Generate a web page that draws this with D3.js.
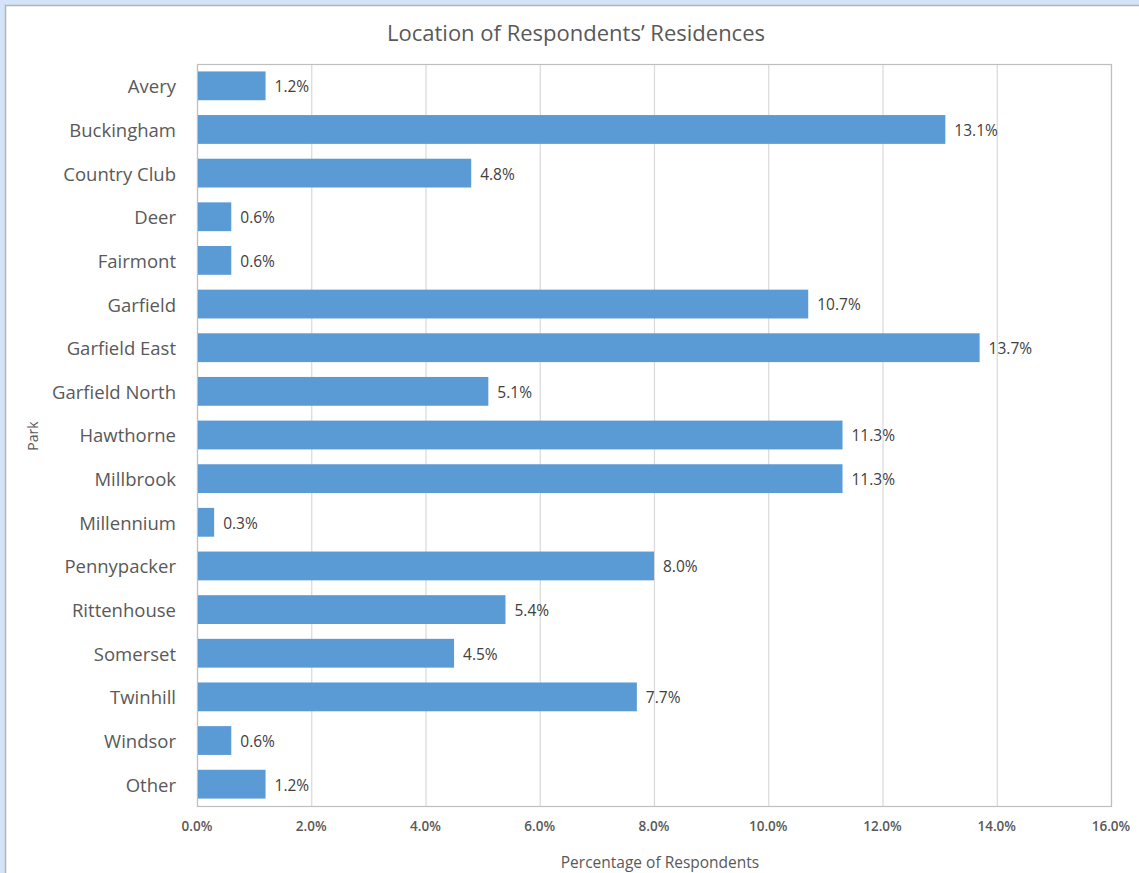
<!DOCTYPE html>
<html><head><meta charset="utf-8">
<script src="https://cdn.jsdelivr.net/npm/d3@7/dist/d3.min.js"></script>
<style>body{margin:0;background:#fff;} svg{display:block;}</style>
</head><body>
<script>
const categories = ["Avery","Buckingham","Country Club","Deer","Fairmont","Garfield","Garfield East","Garfield North","Hawthorne","Millbrook","Millennium","Pennypacker","Rittenhouse","Somerset","Twinhill","Windsor","Other"];
const values = [1.2,13.1,4.8,0.6,0.6,10.7,13.7,5.1,11.3,11.3,0.3,8.0,5.4,4.5,7.7,0.6,1.2];
const xTicks = [0,2,4,6,8,10,12,14,16];
const title = "Location of Respondents’ Residences";
const xTitle = "Percentage of Respondents";
const yTitle = "Park";

const W = 1139, H = 873;
const font = "'Open Sans', 'Liberation Sans', sans-serif";
const svg = d3.select("body").append("svg").attr("width", W).attr("height", H);
svg.append("rect").attr("x",0).attr("y",0).attr("width",W).attr("height",H).attr("fill","#d3e3f8");
svg.append("rect").attr("x",5.5).attr("y",5.5).attr("width",W+10).attr("height",H+10).attr("fill","#fff").attr("stroke","#b4b4b4").attr("stroke-width",1.5);

const m = {left:197, right:1111, top:64, bottom:806};
const x = d3.scaleLinear().domain([0,16]).range([m.left, m.right]);
const y = d3.scaleBand().domain(categories).range([m.top, m.bottom]).paddingInner(0.34).paddingOuter(0.17);

// gridlines
svg.append("g").selectAll("line").data(xTicks).join("line")
  .attr("x1", d=>x(d)+0.5).attr("x2", d=>x(d)+0.5).attr("y1", m.top).attr("y2", m.bottom)
  .attr("stroke","#d9d9d9").attr("stroke-width",1.2);
svg.append("rect").attr("x",m.left+0.5).attr("y",m.top+0.5).attr("width",m.right-m.left).attr("height",m.bottom-m.top)
  .attr("fill","none").attr("stroke","#bfbfbf").attr("stroke-width",1.2);

// bars
svg.append("g").selectAll("rect").data(categories).join("rect")
  .attr("x", x(0)+1).attr("y", d=>y(d)).attr("height", y.bandwidth())
  .attr("width", (d,i)=>x(values[i])-x(0)-1).attr("fill","#5b9bd5");

// labels
svg.append("g").selectAll("text").data(categories).join("text")
  .attr("x", (d,i)=>x(values[i])+9).attr("y", d=>y(d)+y.bandwidth()/2+1).attr("dy","0.35em")
  .attr("font-family",font).attr("font-size",15.5)
  .attr("fill","#404040")
  .text((d,i)=>values[i].toFixed(1)+"%");

// y axis labels
svg.append("g").selectAll("text").data(categories).join("text")
  .attr("x", 176).attr("y", d=>y(d)+y.bandwidth()/2+1).attr("dy","0.35em").attr("text-anchor","end")
  .attr("font-family",font).attr("font-size",18.5).attr("fill","#595959").text(d=>d);

// x tick labels
svg.append("g").selectAll("text").data(xTicks).join("text")
  .attr("x", d=>x(d)).attr("y", 831).attr("text-anchor","middle")
  .attr("font-family",font).attr("font-size",13.5).attr("font-weight","600").attr("fill","#595959")
  .text(d=>d.toFixed(1)+"%");

svg.append("text").attr("x", 576).attr("y", 41).attr("text-anchor","middle")
  .attr("font-family",font).attr("font-size",22).attr("fill","#595959").text(title);
svg.append("text").attr("x", 660).attr("y", 868).attr("text-anchor","middle")
  .attr("font-family",font).attr("font-size",15.5).attr("fill","#595959").text(xTitle);
svg.append("text").attr("transform","translate(38,436) rotate(-90)").attr("text-anchor","middle")
  .attr("font-family",font).attr("font-size",14).attr("fill","#595959").text(yTitle);
</script>
</body></html>
